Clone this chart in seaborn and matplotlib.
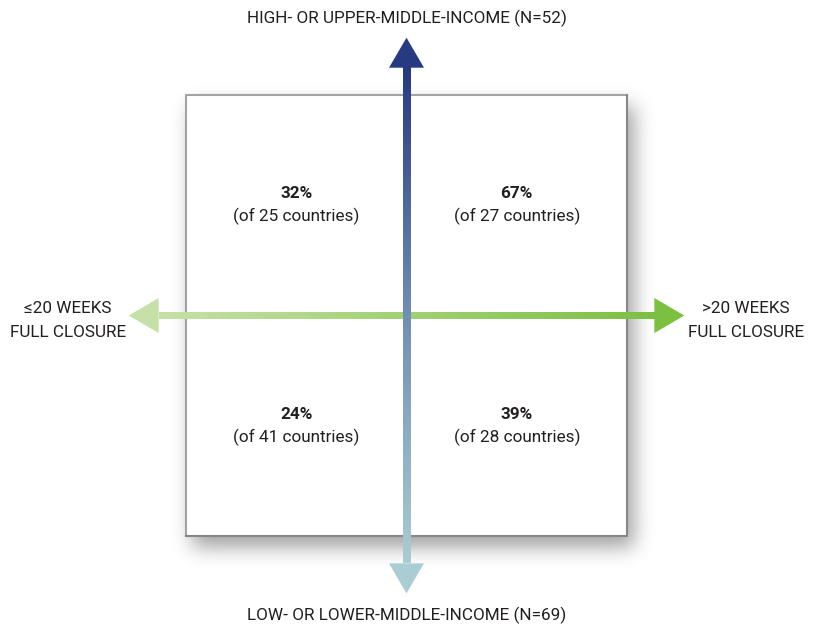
import numpy as np
import matplotlib.pyplot as plt
import seaborn as sns
from matplotlib.patches import Rectangle, Polygon

# quadrant data: order = top-left, top-right, bottom-left, bottom-right
quad_x = [-0.5, 0.5, -0.5, 0.5]
quad_y = [0.5, 0.5, -0.5, -0.5]
pct = [32, 67, 24, 39]
n_countries = [25, 27, 41, 28]

top_label = "HIGH- OR UPPER-MIDDLE-INCOME (N=52)"
bottom_label = "LOW- OR LOWER-MIDDLE-INCOME (N=69)"
left_label = "≤20 WEEKS\nFULL CLOSURE"
right_label = ">20 WEEKS\nFULL CLOSURE"

sns.set_theme(style="white")
plt.rcParams['font.family'] = ['Roboto', 'DejaVu Sans']

fig = plt.figure(figsize=(8.16, 6.24), dpi=100)
ax = fig.add_axes([0, 0, 1, 1])
ax.set_xlim(-1.8435, 1.857)
ax.set_ylim(-1.399, 1.431)
ax.axis('off')

px = 1 / 220.5  # one pixel in data units

# blurred drop shadow, offset right and down
margin = 70
size = 441 + 2 * margin
mask = np.zeros((size, size))
dx, dy = 6, 11
mask[margin + dy:margin + dy + 441, margin + dx:margin + dx + 441] = 1.0
sigma = 10.0
k = np.arange(-35, 36)
kern = np.exp(-k ** 2 / (2 * sigma ** 2))
kern /= kern.sum()
blur = np.apply_along_axis(lambda r: np.convolve(r, kern, mode='same'), 0, mask)
blur = np.apply_along_axis(lambda r: np.convolve(r, kern, mode='same'), 1, blur)
shadow = np.zeros((size, size, 4))
shadow[..., 3] = 0.38 * blur
ext = -1 - margin * px
ax.imshow(shadow, origin='upper', aspect='auto', interpolation='bilinear',
          extent=(ext, -ext, ext, -ext), zorder=1)

ax.add_patch(Rectangle((-1, -1), 2, 2, facecolor='white', edgecolor='none', zorder=2))
# lighter left/top edges, darker right/bottom edges
ax.plot([-1, -1, 1], [-1, 1, 1], color='#a3a3a3', lw=1.5, zorder=2.5,
        solid_capstyle='projecting')
ax.plot([-1, 1, 1], [-1, -1, 1], color='#878787', lw=1.5, zorder=2.5,
        solid_capstyle='projecting')

tip = 1.26
head_len = 30 * px
head_w = 17.5 * px
shaft = 3.5 * px

v_cmap = sns.blend_palette(['#a9cdd3', '#6f8fb3', '#263a82'], as_cmap=True)
h_cmap = sns.blend_palette(['#c6e1a8', '#7cc042'], as_cmap=True)

grad = np.linspace(0, 1, 256)
ax.imshow(grad[:, None], cmap=v_cmap, origin='lower', aspect='auto',
          extent=(-shaft, shaft, -tip + head_len, tip - head_len), zorder=4)
ax.add_patch(Polygon([(0, tip), (-head_w, tip - head_len), (head_w, tip - head_len)],
                     closed=True, facecolor=v_cmap(1.0), edgecolor='none', zorder=4))
ax.add_patch(Polygon([(0, -tip), (-head_w, -tip + head_len), (head_w, -tip + head_len)],
                     closed=True, facecolor=v_cmap(0.0), edgecolor='none', zorder=4))

ax.imshow(grad[None, :], cmap=h_cmap, origin='lower', aspect='auto',
          extent=(-tip + head_len, tip - head_len, -shaft, shaft), zorder=3)
ax.add_patch(Polygon([(-tip, 0), (-tip + head_len, head_w), (-tip + head_len, -head_w)],
                     closed=True, facecolor=h_cmap(0.0), edgecolor='none', zorder=3))
ax.add_patch(Polygon([(tip, 0), (tip - head_len, head_w), (tip - head_len, -head_w)],
                     closed=True, facecolor=h_cmap(1.0), edgecolor='none', zorder=3))

txt = '#231f20'
fs = 12.3
for x, y, p, n in zip(quad_x, quad_y, pct, n_countries):
    ax.text(x, y + 0.052, f"{p}%", ha='center', va='center', fontsize=fs,
            fontweight='bold', color=txt, zorder=5)
    ax.text(x, y - 0.052, f"(of {n} countries)", ha='center', va='center',
            fontsize=fs, color=txt, zorder=5)

ax.text(0, 1.349, top_label, ha='center', va='center', fontsize=fs, color=txt)
ax.text(0, -1.358, bottom_label, ha='center', va='center', fontsize=fs, color=txt)
ax.text(-1.535, -0.022, left_label, ha='center', va='center', fontsize=fs,
        color=txt, linespacing=1.72)
ax.text(1.539, -0.022, right_label, ha='center', va='center', fontsize=fs,
        color=txt, linespacing=1.72)

fig.savefig('out.png', dpi=100)
